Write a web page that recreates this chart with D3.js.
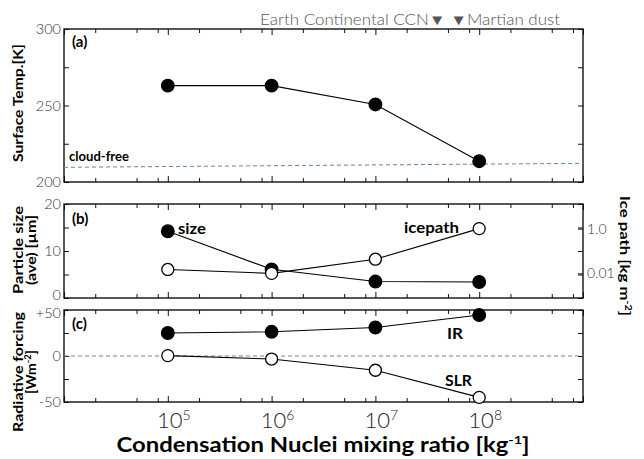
<!DOCTYPE html>
<html>
<head>
<meta charset="utf-8">
<script src="https://cdn.jsdelivr.net/npm/d3@7"></script>
<style>
  body { margin: 0; background: #fff; }
  svg { display: block; }
  text { font-family: Lato, "Open Sans", sans-serif; }
</style>
</head>
<body>
<svg width="644" height="459"></svg>
<script>
// condensation nuclei mixing ratio [kg-1]
var ccn = [1e5, 1e6, 1e7, 1e8];
var xTickLabels = ["5", "6", "7", "8"];

// (a) surface temperature [K]
var surfTemp = [263, 263, 250.7, 213.6];
var cloudFreeX = [1e4, 1e9];
var cloudFree = [209.6, 212.2];

// (b) particle size [um] and ice path [kg m-2]
var partSize = [14.2, 6.1, 3.5, 3.4];
var icePath = [0.015, 0.010, 0.043, 1.0];
var icePathTicks = [1.0, 0.1, 0.01];
var icePathLabels = ["1.0", "", "0.01"];

// (c) radiative forcing [W m-2]
var irForcing = [25, 26.3, 31, 44.5];
var slrForcing = [0.4, -3.3, -15.5, -45];

var svg = d3.select("svg");
var left = 64, right = 583;
var dashColor = "#5e8c93";

var x = d3.scaleLog().domain([1e4, 1e9]).range([left, right]);

var xMajor = d3.range(4, 10).map(function(k) { return Math.pow(10, k); });
var xMinor = [];
d3.range(4, 9).forEach(function(k) {
  [2, 5, 8].forEach(function(m) { xMinor.push(m * Math.pow(10, k)); });
});

var ya = d3.scaleLinear().domain([200, 300]).range([182, 29]);
var yb = d3.scaleLinear().domain([0, 20]).range([298, 204]);
var ybR = d3.scaleLog().domain([Math.pow(10, -3.1), Math.pow(10, 1.1)]).range([298, 204]);
var yc = d3.scaleLinear().domain([-50, 50]).range([402, 310]);

function frame(y) {
  var g = svg.append("g");
  // x ticks, top and bottom, pointing in
  [[xMajor, 6], [xMinor, 4]].forEach(function(t) {
    g.append("g").attr("transform", "translate(0," + y.range()[0] + ")")
      .call(d3.axisTop(x).tickValues(t[0]).tickSize(t[1]).tickFormat(""));
    g.append("g").attr("transform", "translate(0," + y.range()[1] + ")")
      .call(d3.axisBottom(x).tickValues(t[0]).tickSize(t[1]).tickFormat(""));
  });
  g.selectAll(".domain").remove();
  g.selectAll(".tick line").attr("stroke", "#111").attr("stroke-width", 1);
  g.append("rect")
    .attr("x", left).attr("y", y.range()[1])
    .attr("width", right - left).attr("height", y.range()[0] - y.range()[1])
    .attr("fill", "none").attr("stroke", "#111").attr("stroke-width", 1.4);
  return g;
}

function yAxes(y, ticks, labels) {
  var g = svg.append("g");
  g.append("g").attr("transform", "translate(" + left + ",0)")
    .call(d3.axisLeft(y).tickValues(ticks).tickSize(-5).tickPadding(3)
      .tickFormat(function(d) { return labels[d] || ""; }));
  g.append("g").attr("transform", "translate(" + right + ",0)")
    .call(d3.axisRight(y).tickValues(ticks).tickSize(-5).tickFormat(""));
  g.selectAll(".domain").remove();
  g.selectAll(".tick line").attr("stroke", "#111");
  g.selectAll(".tick text").attr("font-size", 14.5).attr("font-weight", 300)
    .attr("fill", "#333").attr("font-family", "Lato, sans-serif");
  return g;
}

function series(y, vals, filled) {
  var line = d3.line().x(function(d, i) { return x(ccn[i]); }).y(function(d) { return y(d); });
  svg.append("path").datum(vals).attr("d", line)
    .attr("fill", "none").attr("stroke", "#000").attr("stroke-width", 1.1);
  svg.append("g").selectAll("circle").data(vals).join("circle")
    .attr("cx", function(d, i) { return x(ccn[i]); })
    .attr("cy", function(d) { return y(d); })
    .attr("r", filled ? 6.3 : 6)
    .attr("fill", filled ? "#000" : "#fff")
    .attr("stroke", "#000").attr("stroke-width", 1.3);
}

function label(txt, px, py, size, opts) {
  opts = opts || {};
  var t = svg.append("text").attr("x", px).attr("y", py)
    .attr("font-size", size).attr("font-weight", opts.weight || 700)
    .attr("fill", opts.fill || "#000")
    .attr("text-anchor", opts.anchor || "start")
    .text(txt);
  if (opts.len) t.attr("textLength", opts.len).attr("lengthAdjust", "spacingAndGlyphs");
  if (opts.rotate) t.attr("transform", "rotate(" + opts.rotate + "," + px + "," + py + ")");
  return t;
}

// ---- panel (a)
frame(ya);
yAxes(ya, [200, 225, 250, 275, 300], {200: "200", 250: "250", 300: "300"});
svg.append("path")
  .datum(cloudFree)
  .attr("d", d3.line().x(function(d, i) { return x(cloudFreeX[i]); }).y(function(d) { return ya(d); }))
  .attr("stroke", dashColor).attr("stroke-width", 1).attr("stroke-dasharray", "4,3").attr("fill", "none");
series(ya, surfTemp, true);
label("(a)", 72, 47, 15);
label("cloud-free", 69, 161, 14, {len: 60});

// ---- panel (b)
frame(yb);
var axB = yAxes(yb, [0, 5, 10, 15, 20], {0: "0", 10: "10", 20: "20"});
axB.selectAll(".tick text").filter(function(d) { return d === 0; }).attr("dy", "0.1em");
var gR = svg.append("g").attr("transform", "translate(" + right + ",0)")
  .call(d3.axisRight(ybR).tickValues(icePathTicks).tickSize(-5).tickPadding(4)
    .tickFormat(function(d, i) { return icePathLabels[i]; }));
gR.select(".domain").remove();
gR.selectAll(".tick line").attr("stroke", "#111");
gR.selectAll(".tick text").attr("font-size", 14).attr("font-weight", 300).attr("fill", "#333");
series(yb, partSize, true);
series(ybR, icePath, false);
label("(b)", 72, 224, 15);
label("size", 178, 234, 15, {len: 28});
label("icepath", 404, 233, 15, {len: 55});

// ---- panel (c)
frame(yc);
var axC = yAxes(yc, [-50, -25, 0, 25, 50], {"-50": "-50", 0: "0", 50: "+50"});
axC.selectAll(".tick text").filter(function(d) { return d === 50; }).attr("dy", "0.55em");
svg.append("line")
  .attr("x1", left).attr("x2", right).attr("y1", yc(0)).attr("y2", yc(0))
  .attr("stroke", dashColor).attr("stroke-width", 1).attr("stroke-dasharray", "4,3");
series(yc, irForcing, true);
series(yc, slrForcing, false);
label("(c)", 72, 329, 15);
label("IR", 447, 339, 15, {len: 16});
label("SLR", 445, 386, 15, {len: 27});

// ---- x tick labels
var xl = svg.append("g").selectAll("text").data(ccn).join("text")
  .attr("x", function(d) { return x(d) + 6; })
  .attr("y", 428)
  .attr("text-anchor", "middle")
  .attr("font-size", 22).attr("font-weight", 300).attr("fill", "#222");
xl.append("tspan").text("10");
xl.append("tspan").attr("dy", -8).attr("font-size", 14).text(function(d, i) { return xTickLabels[i]; });

// ---- titles
var xt = label("", 323, 452, 20, {anchor: "middle", len: 413});
xt.append("tspan").text("Condensation Nuclei mixing ratio [kg");
xt.append("tspan").attr("dy", -8).attr("font-size", 12).text("-1");
xt.append("tspan").attr("dy", 8).text("]");

label("Surface Temp.[K]", 23, 103, 14, {anchor: "middle", rotate: -90, len: 118});
label("Particle size", 23, 250, 14, {anchor: "middle", rotate: -90, len: 88});
label("(ave) [µm]", 36, 250, 14, {anchor: "middle", rotate: -90, len: 70});
label("Radiative forcing", 23, 372, 14, {anchor: "middle", rotate: -90, len: 120});
var wm = label("", 36, 372, 14, {anchor: "middle", rotate: -90, len: 44});
wm.append("tspan").text("[Wm");
wm.append("tspan").attr("dy", -5).attr("font-size", 9).text("-2");
wm.append("tspan").attr("dy", 5).text("]");

var ip = label("", 620, 256, 14, {anchor: "middle", rotate: 90, len: 120});
ip.append("tspan").text("Ice path [kg m");
ip.append("tspan").attr("dy", -5).attr("font-size", 9).text("-2");
ip.append("tspan").attr("dy", 5).text("]");

label("Earth Continental CCN\u25BC  \u25BCMartian dust", 260, 25, 15, {weight: 300, fill: "#555", len: 300});
</script>
</body>
</html>
